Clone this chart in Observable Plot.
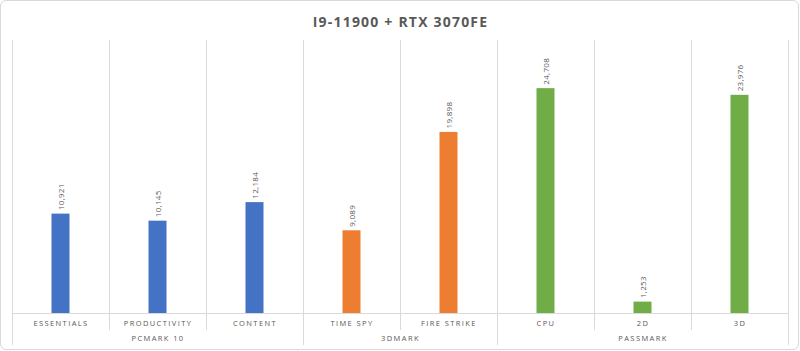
<!DOCTYPE html>
<html>
<head>
<meta charset="utf-8">
<script src="https://cdn.jsdelivr.net/npm/d3@7"></script>
<script src="https://cdn.jsdelivr.net/npm/@observablehq/plot@0.6"></script>
<style>
  html, body { margin: 0; padding: 0; background: #fff; }
  #wrap { position: relative; width: 800px; height: 351px; }
  #frame { position: absolute; left: 0; top: 0; width: 797px; height: 348px; border: 1px solid #d9d9d9; border-radius: 6px; pointer-events: none; }
</style>
</head>
<body>
<div id="wrap"><div id="frame"></div></div>
<script>
const title = "I9-11900 + RTX 3070FE";
const categories = ["ESSENTIALS", "PRODUCTIVITY", "CONTENT", "TIME SPY", "FIRE STRIKE", "CPU", "2D", "3D"];
const groupOf = ["PCMARK 10", "PCMARK 10", "PCMARK 10", "3DMARK", "3DMARK", "PASSMARK", "PASSMARK", "PASSMARK"];
const values = [10921, 10145, 12184, 9089, 19898, 24708, 1253, 23976];
const groups = ["PCMARK 10", "3DMARK", "PASSMARK"];
const groupColors = ["#4472C4", "#ED7D31", "#70AD47"];

const data = categories.map((c, i) => ({cat: c, group: groupOf[i], value: values[i]}));

const width = 800, height = 351;
const mL = 12, mR = 12, mT = 40, mB = 38;
const band = (width - mL - mR) / categories.length;

const groupStarts = categories.filter((c, i) => i === 0 || groupOf[i] !== groupOf[i - 1]);
const innerStarts = categories.filter((c, i) => i > 0 && groupOf[i] === groupOf[i - 1]);
const groupLabels = groups.map(g => {
  const idx = groupOf.map((v, i) => v === g ? i : -1).filter(i => i >= 0);
  return {group: g, first: categories[idx[0]], n: idx.length};
});

const grid = "#d9d9d9";
const textCol = "#595959";

const chart = Plot.plot({
  width, height,
  marginLeft: mL, marginRight: mR, marginTop: mT, marginBottom: mB,
  style: {fontFamily: "'Open Sans', sans-serif", background: "transparent", overflow: "visible"},
  x: {domain: categories, padding: 0, axis: null},
  y: {domain: [0, 30000], axis: null},
  color: {domain: groups, range: groupColors},
  marks: [
    Plot.ruleX(innerStarts, {x: d => d, dx: -band / 2, stroke: grid, insetBottom: -17}),
    Plot.ruleX(groupStarts, {x: d => d, dx: -band / 2, stroke: grid, insetBottom: -32}),
    Plot.ruleX([categories[categories.length - 1]], {x: d => d, dx: band / 2, stroke: grid, insetBottom: -32}),
    Plot.ruleY([0], {stroke: grid}),
    Plot.barY(data, {x: "cat", y: "value", fill: "group", insetLeft: (band - 18) / 2, insetRight: (band - 18) / 2}),
    Plot.text(data, {x: "cat", y: "value", text: d => d3.format(",")(d.value), rotate: -90, textAnchor: "start", dy: -4, fill: textCol, fontSize: 8}),
    Plot.text(data, {x: "cat", text: "cat", frameAnchor: "bottom", dy: 12, fill: textCol, fontSize: 7.5}),
    Plot.text(groupLabels, {x: "first", text: "group", frameAnchor: "bottom", dy: 27, fill: textCol, fontSize: 7.5}),
    Plot.text([title], {text: d => d, frameAnchor: "top", dy: -23, fill: textCol, fontSize: 14, fontWeight: "bold"})
  ]
});

const textGroups = chart.querySelectorAll('g[aria-label="text"]');
const [valG, catG, grpG, titleG] = textGroups;
grpG.querySelectorAll("text").forEach((t, i) => {
  const shift = (groupLabels[i].n - 1) * band / 2;
  const tr = t.getAttribute("transform") || "";
  t.setAttribute("transform", `translate(${shift},0) ` + tr);
});
catG.setAttribute("letter-spacing", "1.4");
grpG.setAttribute("letter-spacing", "1.4");
titleG.setAttribute("letter-spacing", "1.2");
valG.setAttribute("letter-spacing", "0.3");

document.getElementById("wrap").prepend(chart);
</script>
</body>
</html>
